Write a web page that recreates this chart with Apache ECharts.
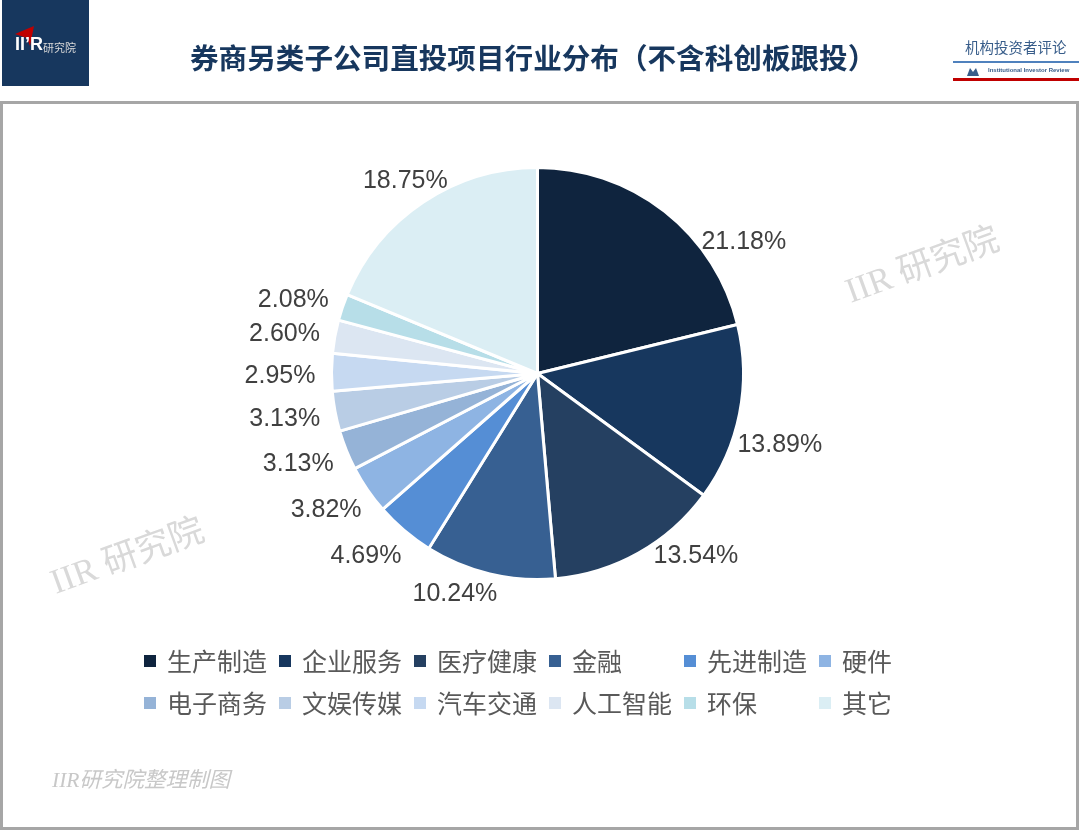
<!DOCTYPE html>
<html>
<head>
<meta charset="utf-8">
<style>
html, body { margin: 0; padding: 0; background: #fff; }
#chart { width: 1080px; height: 831px; }
</style>
<script src="https://cdn.jsdelivr.net/npm/echarts@6/dist/echarts.min.js"></script>
</head>
<body>
<div id="chart"></div>
<script>
const categories = ['生产制造', '企业服务', '医疗健康', '金融', '先进制造', '硬件', '电子商务', '文娱传媒', '汽车交通', '人工智能', '环保', '其它']
const shares = [21.18, 13.89, 13.54, 10.24, 4.69, 3.82, 3.13, 3.13, 2.95, 2.60, 2.08, 18.75]
const colors = ['#0f243e', '#17375e', '#254061', '#376092', '#558ed5', '#8eb4e3', '#95b3d7', '#b9cde5', '#c6d9f1', '#dce6f2', '#b7dee8', '#dbeef4']

// 标签相对默认位置的微调
const labelShift = [[28, 35], [-13, 30], [7, -2], [14, 14], [6, 21], [4, 17], [-2, 12], [-4, 7], [-5, 4], [-4, -1], [-3, -5], [33, -16]]

const cjk = '"Noto Sans CJK SC", "Liberation Sans", sans-serif'
const serif = '"Liberation Serif", "Noto Sans CJK SC", serif'

const chart = echarts.init(document.getElementById('chart'), null, { renderer: 'canvas' })

chart.setOption({
	animation: false,
	backgroundColor: '#fff',
	color: colors,
	legend: {
		left: 142,
		top: 640,
		width: 830,
		icon: 'rect',
		itemWidth: 14,
		itemHeight: 14,
		itemGap: 0,
		padding: 0,
		selectedMode: false,
		textStyle: {
			fontFamily: cjk,
			fontSize: 25,
			color: '#595959',
			width: 110,
			lineHeight: 42,
			padding: [0, 0, 0, 5]
		},
		data: categories
	},
	series: [
		{
			type: 'pie',
			center: [537.5, 373.5],
			radius: [0, 206],
			startAngle: 90,
			clockwise: true,
			avoidLabelOverlap: false,
			itemStyle: { borderColor: '#fff', borderWidth: 3 },
			label: {
				show: true,
				position: 'outside',
				formatter: (p) => p.value.toFixed(2) + '%',
				fontFamily: '"Liberation Sans", Arial, sans-serif',
				fontSize: 25,
				color: '#404040'
			},
			labelLine: { show: false, length: 6, length2: 0 },
			labelLayout: (p) => ({ dx: labelShift[p.dataIndex][0], dy: labelShift[p.dataIndex][1] }),
			data: categories.map((name, i) => ({ name, value: shares[i] }))
		}
	],
	graphic: [
		// 外框
		{ type: 'rect', shape: { x: 1.5, y: 102.5, width: 1076, height: 726 }, style: { fill: 'none', stroke: '#a6a6a6', lineWidth: 3 } },
		// 左上角标志
		{ type: 'rect', shape: { x: 2, y: 0, width: 87, height: 86 }, style: { fill: '#17375e' } },
		{ type: 'polygon', shape: { points: [[15, 34], [34, 26], [30, 46], [27, 38]] }, style: { fill: '#c00000' } },
		{ type: 'text', x: 15, y: 36, style: { text: 'II’R', fontFamily: '"Liberation Sans", sans-serif', fontWeight: 'bold', fontSize: 18, fill: '#fff' } },
		{ type: 'text', x: 43, y: 42, style: { text: '研究院', fontFamily: cjk, fontSize: 11, fill: '#d9d9d9' } },
		// 标题
		{ type: 'text', x: 190, y: 44, style: { text: '券商另类子公司直投项目行业分布（不含科创板跟投）', fontFamily: cjk, fontWeight: 'bold', fontSize: 28.6, fill: '#17375e' } },
		// 右上角刊名
		{ type: 'text', x: 965, y: 40, style: { text: '机构投资者评论', fontFamily: cjk, fontSize: 14.5, fill: '#385d8a' } },
		{ type: 'rect', shape: { x: 953, y: 61, width: 126, height: 2 }, style: { fill: '#4f81bd' } },
		{ type: 'text', x: 988, y: 67, style: { text: 'Institutional Investor Review', fontFamily: '"Liberation Sans Narrow", "Liberation Sans", sans-serif', fontWeight: 'bold', fontSize: 6, fill: '#385d8a' } },
		{ type: 'polygon', shape: { points: [[967, 76], [970, 68], [973, 72], [976, 68], [979, 76]] }, style: { fill: '#385d8a' } },
		{ type: 'rect', shape: { x: 953, y: 78, width: 126, height: 3 }, style: { fill: '#c00000' } },
		// 水印
		{ type: 'text', x: 923, y: 267, rotation: 20 * Math.PI / 180, style: { text: 'IIR 研究院', align: 'center', verticalAlign: 'middle', fontFamily: serif, fontSize: 35, fill: '#d9d9d9' } },
		{ type: 'text', x: 128, y: 558, rotation: 20 * Math.PI / 180, style: { text: 'IIR 研究院', align: 'center', verticalAlign: 'middle', fontFamily: serif, fontSize: 35, fill: '#d9d9d9' } },
		// 来源
		{ type: 'text', x: 52, y: 771, style: { text: 'IIR研究院整理制图', fontFamily: serif, fontStyle: 'italic', fontSize: 21.5, fill: '#c8c8c8' } }
	]
})
</script>
</body>
</html>
